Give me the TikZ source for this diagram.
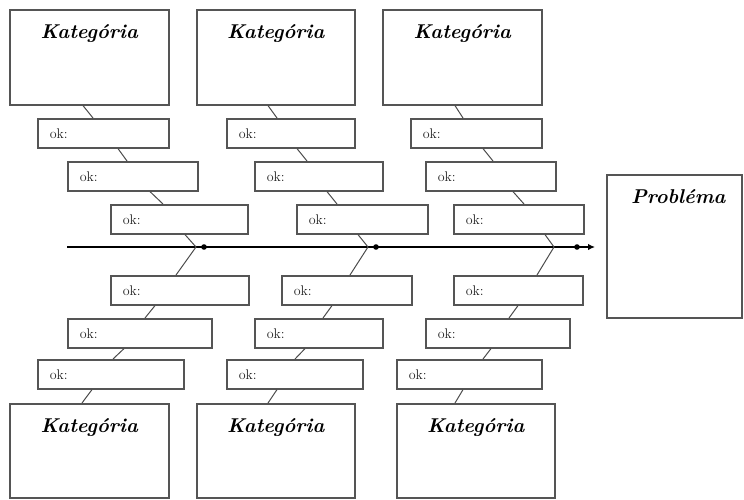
\documentclass[tikz,border=0pt]{standalone}
\usetikzlibrary{arrows.meta}
\definecolor{boxgray}{RGB}{85,85,85}
\definecolor{okgray}{RGB}{35,35,35}
\newcommand\katfont{\fontsize{20}{22}\selectfont\bfseries\itshape}
\tikzset{
  okbox/.style={draw=boxgray, line width=1.6pt, rectangle, anchor=north west,
    inner xsep=12pt, inner ysep=0pt, font=\fontsize{14}{16}\selectfont, text=okgray},
  katbox/.style={draw=boxgray, line width=1.6pt, rectangle, anchor=north west, inner sep=0pt},
  conn/.style={draw=black!70, line width=1pt},
  dotmark/.style={fill=black},
}
\newcommand\okb[5]{\node[okbox, minimum width={#4pt-#2pt}, minimum height={#5pt-#3pt}] (#1) at (#2,#3)
  {\makebox[\dimexpr #4pt-#2pt-24pt\relax][l]{ok:}};}
\newcommand\katb[7]{\node[katbox] (#1) at (#2,#3)
  {\vbox to \dimexpr#5pt-#3pt\relax{\vskip 15pt\hbox to \dimexpr#4pt-#2pt\relax{\hskip #7pt\hfil\katfont #6\hfil}\vfil}};}
\newcommand\cn[4]{\draw[conn] ([xshift=#2pt]#1.south west) -- ([xshift=#4pt]#3.north west);}
\begin{document}
\begin{tikzpicture}[x=1pt,y=-1pt]
\useasboundingbox[fill=white] (0,0) rectangle (744,499);
% category boxes
\katb{T1}{9}{9}{168}{104}{Kategória}{0}
\katb{T2}{196}{9}{354}{104}{Kategória}{0}
\katb{T3}{382}{9}{541}{104}{Kategória}{0}
\katb{B1}{9}{403}{168}{497}{Kategória}{0}
\katb{B2}{196}{403}{354}{497}{Kategória}{0}
\katb{B3}{396}{403}{554}{497}{Kategória}{0}
\katb{P}{606}{174}{741}{317}{Probléma}{8}
% top ok boxes
\okb{a1}{37}{118}{168}{147}
\okb{a2}{67}{161}{197}{190}
\okb{a3}{110}{204}{247}{233}
\okb{b1}{226}{118}{354}{147}
\okb{b2}{254}{161}{382}{190}
\okb{b3}{296}{204}{427}{233}
\okb{c1}{410}{118}{541}{147}
\okb{c2}{425}{161}{555}{190}
\okb{c3}{453}{204}{583}{233}
% bottom ok boxes
\okb{d1}{110}{275}{248}{304}
\okb{d2}{67}{318}{211}{347}
\okb{d3}{37}{359}{183}{388}
\okb{e1}{281}{275}{411}{304}
\okb{e2}{254}{318}{382}{347}
\okb{e3}{226}{359}{362}{388}
\okb{f1}{453}{275}{582}{304}
\okb{f2}{425}{318}{569}{347}
\okb{f3}{396}{359}{541}{388}
% spine
\coordinate (s0) at (67,247);
\coordinate (q1) at (420,247);
\coordinate (q2) at (518,247);
\coordinate (q3) at (577,247);
\coordinate (s1) at (595,247);
\coordinate (x1) at (196,247);
\coordinate (x2) at (368,247);
\coordinate (x3) at (554,247);
\coordinate (m1) at (204,247);
\coordinate (m2) at (376,247);
\draw[line width=2.8pt] (s0) -- (q1);
\draw[line width=1.6pt, -{Latex[length=7pt,width=6.5pt]}] (q1) -- (s1);
\draw[line width=2.6pt] (q2) -- (q3);
\fill[dotmark] (m1) circle (2.8);
\fill[dotmark] (m2) circle (2.8);
\fill[dotmark] (q3) circle (2.8);
% top connectors
\cn{T1}{74}{a1}{56}
\cn{a1}{81}{a2}{60}
\cn{a2}{83}{a3}{53}
\cn{T2}{72}{b1}{51}
\cn{b1}{71}{b2}{53}
\cn{b2}{73}{b3}{41}
\cn{T3}{73}{c1}{53}
\cn{c1}{73}{c2}{68}
\cn{c2}{88}{c3}{71}
% chevrons at the spine
\draw[conn] ([xshift=75pt]a3.south west) -- (x1) -- ([xshift=66pt]d1.north west);
\draw[conn] ([xshift=62pt]b3.south west) -- (x2) -- ([xshift=69pt]e1.north west);
\draw[conn] ([xshift=92pt]c3.south west) -- (x3) -- ([xshift=84pt]f1.north west);
% bottom connectors
\cn{d1}{45}{d2}{78}
\cn{d2}{57}{d3}{76}
\cn{d3}{55}{B1}{73}
\cn{e1}{51}{e2}{69}
\cn{e2}{51}{e3}{69}
\cn{e3}{51}{B2}{72}
\cn{f1}{65}{f2}{84}
\cn{f2}{66}{f3}{87}
\cn{f3}{67}{B3}{59}
\end{tikzpicture}
\end{document}
